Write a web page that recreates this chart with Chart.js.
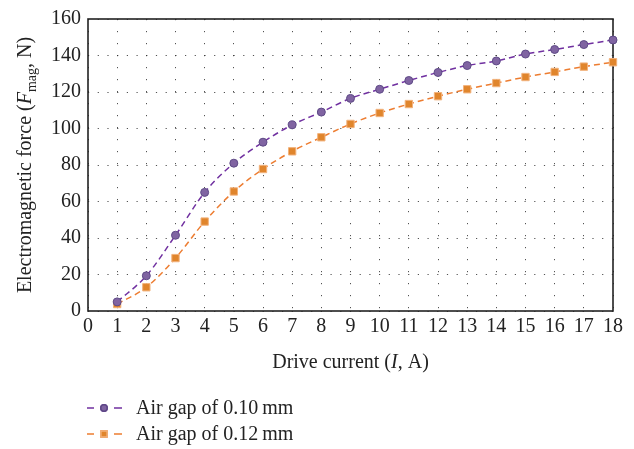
<!DOCTYPE html>
<html>
<head>
<meta charset="utf-8">
<script src="https://cdn.jsdelivr.net/npm/chart.js@4.4.0/dist/chart.umd.min.js"></script>
<style>
  html, body { margin: 0; padding: 0; background: #fff; }
  #wrap { width: 634px; height: 449px; }
</style>
</head>
<body>
<div id="wrap"><canvas id="chart" width="634" height="449"></canvas></div>
<script>
// drive current, A
const current = [1, 2, 3, 4, 5, 6, 7, 8, 9, 10, 11, 12, 13, 14, 15, 16, 17, 18];
// electromagnetic force, N
const gap010 = [5, 19.3, 41.5, 65, 81, 92.5, 102, 109, 116.5, 121.5, 126.3, 130.7, 134.5, 137, 140.8, 143.3, 146, 148.5];
const gap012 = [3.8, 13, 29, 49, 65.5, 77.8, 87.5, 95.2, 102.5, 108.5, 113.4, 117.7, 121.5, 124.9, 128.2, 131, 133.9, 136.3];
const seriesNames = ['Air gap of 0.10\u2009mm', 'Air gap of 0.12\u2009mm'];
const xTicks = { min: 0, max: 18, step: 1 };
const yTicks = { min: 0, max: 160, step: 20 };

const FONT = '"Liberation Serif", "DejaVu Serif", serif';
const purple = { line: '#7030a0', fill: '#8064a2', edge: '#5e4a86' };
const orange = { line: '#ed7d31', fill: '#e0852c', edge: '#f2b27c' };

function pts(ys) {
  return current.map((x, i) => ({ x: x, y: ys[i] }));
}

// box around the plot area
const frame = {
  id: 'frame',
  beforeDatasetsDraw(chart) {
    const a = chart.chartArea, ctx = chart.ctx;
    ctx.save();
    ctx.strokeStyle = '#222';
    ctx.lineWidth = 1.6;
    ctx.strokeRect(a.left, a.top, a.right - a.left, a.bottom - a.top);
    ctx.restore();
  }
};

// axis titles with italic symbol and subscript
const titles = {
  id: 'titles',
  afterDraw(chart) {
    const ctx = chart.ctx, a = chart.chartArea;
    const parts = (list) => list.reduce((w, p) => { ctx.font = p.font; return w + ctx.measureText(p.t).width; }, 0);
    const drawParts = (list, x, y) => {
      list.forEach(p => {
        ctx.font = p.font;
        ctx.fillText(p.t, x, y + (p.dy || 0));
        x += ctx.measureText(p.t).width;
      });
    };
    ctx.save();
    ctx.fillStyle = '#222';
    ctx.textBaseline = 'alphabetic';

    const xt = [
      { t: 'Drive current (', font: '20px ' + FONT },
      { t: 'I', font: 'italic 20px ' + FONT },
      { t: ', A)', font: '20px ' + FONT }
    ];
    const cx = (a.left + a.right) / 2;
    drawParts(xt, cx - parts(xt) / 2, 368);

    const yt = [
      { t: 'Electromagnetic force (', font: '20px ' + FONT },
      { t: 'F', font: 'italic 20px ' + FONT },
      { t: 'mag', font: '14px ' + FONT, dy: 5 },
      { t: ', N)', font: '20px ' + FONT }
    ];
    ctx.translate(31, (a.top + a.bottom) / 2);
    ctx.rotate(-Math.PI / 2);
    drawParts(yt, -parts(yt) / 2, 0);
    ctx.restore();
  }
};

// legend under the axis title: dash, marker, dash, name
const legendBelow = {
  id: 'legendBelow',
  afterDraw(chart) {
    const ctx = chart.ctx;
    ctx.save();
    chart.data.datasets.forEach((ds, i) => {
      const y = 408 + i * 26;
      ctx.strokeStyle = ds.borderColor;
      ctx.lineWidth = 1.5;
      ctx.beginPath();
      ctx.moveTo(87, y); ctx.lineTo(94, y);
      ctx.moveTo(114, y); ctx.lineTo(122, y);
      ctx.stroke();
      Chart.helpers.drawPoint(ctx, {
        pointStyle: ds.pointStyle, radius: ds.pointRadius - 0.8, borderWidth: 1
      }, 104, y);
      ctx.fillStyle = ds.pointBackgroundColor;
      ctx.strokeStyle = ds.pointBorderColor;
      ctx.fill();
      ctx.stroke();
      ctx.fillStyle = '#222';
      ctx.font = '20px ' + FONT;
      ctx.textBaseline = 'middle';
      ctx.fillText(ds.label, 136, y + 1);
    });
    ctx.restore();
  }
};

new Chart(document.getElementById('chart'), {
  type: 'line',
  data: {
    datasets: [
      {
        label: seriesNames[0],
        data: pts(gap010),
        borderColor: purple.line,
        borderWidth: 1.5,
        borderDash: [6, 4],
        pointStyle: 'circle',
        pointRadius: 4,
        pointBackgroundColor: purple.fill,
        pointBorderColor: purple.edge,
        pointBorderWidth: 1,
        cubicInterpolationMode: 'monotone',
        clip: false
      },
      {
        label: seriesNames[1],
        data: pts(gap012),
        borderColor: orange.line,
        borderWidth: 1.5,
        borderDash: [6, 4],
        pointStyle: 'rect',
        pointRadius: 5.2,
        pointBackgroundColor: orange.fill,
        pointBorderColor: orange.edge,
        pointBorderWidth: 1,
        cubicInterpolationMode: 'monotone',
        clip: false
      }
    ]
  },
  options: {
    responsive: false,
    animation: false,
    layout: { padding: { left: 0, right: 21, top: 13, bottom: 0 } },
    plugins: {
      legend: { display: false },
      tooltip: { enabled: false }
    },
    scales: {
      x: {
        type: 'linear',
        min: xTicks.min,
        max: xTicks.max,
        ticks: { stepSize: xTicks.step, color: '#222', padding: 4, font: { family: FONT, size: 20 }, maxRotation: 0, autoSkip: false },
        grid: { color: 'rgba(40,40,40,0.8)', lineWidth: 1, drawTicks: false },
        // in v4 the grid line dash lives under border
        border: { display: false, dash: [1.2, 10.8] },
        afterFit(scale) { scale.height = 138; }
      },
      y: {
        min: yTicks.min,
        max: yTicks.max,
        ticks: { stepSize: yTicks.step, color: '#222', padding: 7, font: { family: FONT, size: 20 } },
        grid: { color: 'rgba(40,40,40,0.8)', lineWidth: 1, drawTicks: false },
        border: { display: false, dash: [1.2, 8.5] },
        afterFit(scale) { scale.width = 88; }
      }
    }
  },
  plugins: [frame, titles, legendBelow]
});
</script>
</body>
</html>
